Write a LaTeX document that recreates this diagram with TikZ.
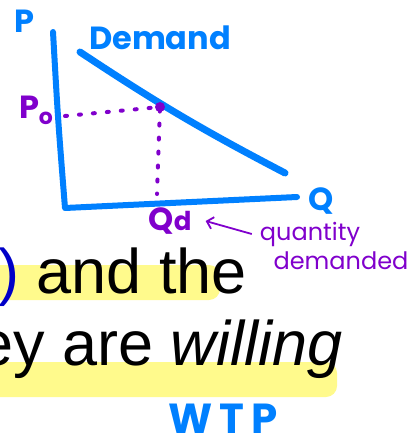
\documentclass[tikz,border=0pt]{standalone}
\usepackage{fontspec}
\setmainfont{Liberation Sans}
\newfontfamily\handfont{Poppins}
\usetikzlibrary{positioning,arrows.meta}
\definecolor{penblue}{RGB}{0,128,255}
\definecolor{penpurple}{RGB}{128,0,204}
\definecolor{hlyellow}{RGB}{255,250,140}
\definecolor{parblue}{RGB}{0,0,200}

\begin{document}
\begin{tikzpicture}[
  x=1pt, y=-1pt,
  axis/.style={penblue,line width=6pt,line cap=round,line join=round},
  dem/.style={penblue,line width=7pt,line cap=round},
  dots/.style={penpurple,line width=4pt,line cap=round,dash pattern=on 2pt off 12pt},
  hand/.style={font=\handfont\bfseries\fontsize{32}{32}\selectfont,inner sep=0pt},
  note/.style={penpurple,font=\handfont\fontsize{24}{22}\selectfont,inner sep=0pt},
  hl/.style={fill=hlyellow,rounded corners=11pt},
  big/.style={font=\fontsize{63}{63}\selectfont,inner sep=0pt,anchor=base west}
]
\useasboundingbox (0,0) rectangle (413,441);
\clip (0,0) rectangle (413,441);

% highlighted lines of text
\fill[hl] (-20,265) rectangle (220,300);
\fill[hl] (-20,362) rectangle (337,397);
\node[big] (line1) at (-2,293) {\textcolor{parblue}{)} and the};
\node[big] (line2) at (-22,365) {ey are \textit{willing}};
\node[hand,penblue,font=\handfont\bfseries\fontsize{42}{42}\selectfont] (wtp) at (223,419) {W\,T\,P};

% axes and demand curve
\coordinate (ptop) at (53,32);
\coordinate (orig) at (65,208);
\coordinate (qend) at (297,197);
\coordinate (dtop) at (80,52);
\coordinate (dbot) at (285,173);
\draw[axis] (ptop) .. controls (58,120) .. (orig) -- (qend);
\draw[dem] (dtop) to[bend right=3] (dbot);

\node[hand,penblue] (plab) at (24,21) {P};
\node[hand,penblue] (qlab) at (321,201) {Q};
\node[hand,penblue] (demlab) at (160,38) {Demand};

% equilibrium point
\coordinate (eq) at (160,107);
\coordinate (pax) at (65,116);
\coordinate (qax) at (157,194);
\draw[dots] (pax) -- (eq) -- (qax);
\fill[penpurple] (eq) circle (5pt);

\node[hand,penpurple] (p0) at (36,110) {P\raisebox{-6pt}{\fontsize{22}{22}\selectfont o}};
\node[hand,penpurple] (qd) at (170,221) {Q\fontsize{26}{26}\selectfont d};
\node[note] (qty) at (310,234) {quantity};
\node[note] (dmd) at (341,261) {demanded};
\draw[penpurple,line width=1.8pt,-{Straight Barb[length=6pt,width=12pt]}] ([xshift=-8pt]qty.west) -- ([xshift=14pt]qd.east);
\end{tikzpicture}
\end{document}
